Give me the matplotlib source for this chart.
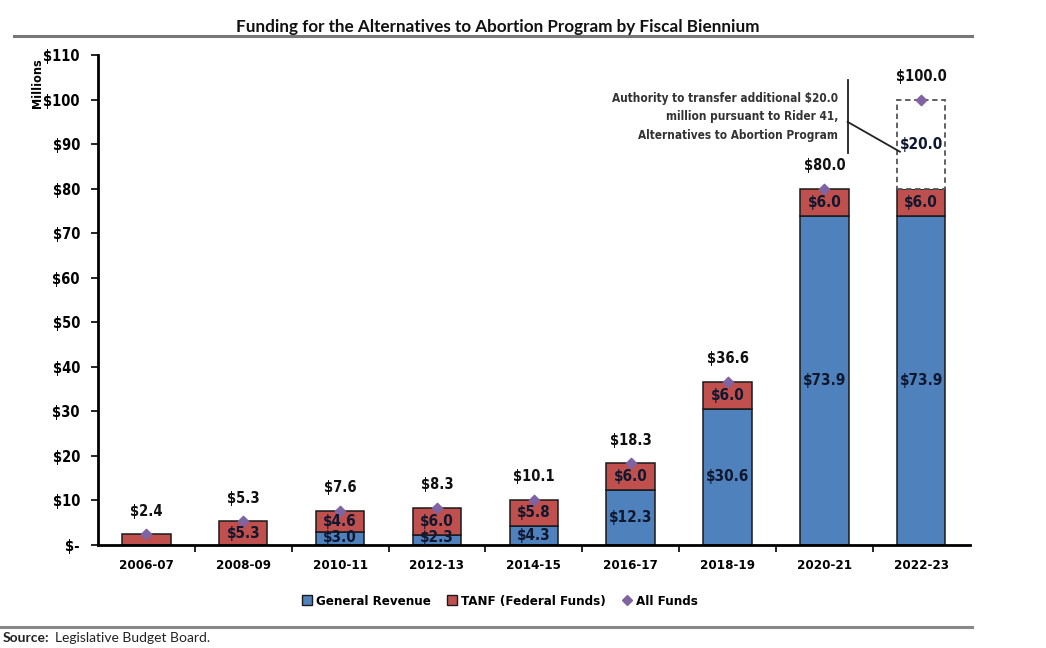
import numpy as np
import matplotlib
matplotlib.use("Agg")
import matplotlib.pyplot as plt
from matplotlib import font_manager
from matplotlib.lines import Line2D
from matplotlib.patches import Patch

# pick a narrow font if one is installed
narrow = [f.name for f in font_manager.fontManager.ttflist
          if 'condensed' in str(f.stretch).lower() or 'narrow' in f.name.lower()
          or 'condensed' in f.name.lower()]
if narrow:
    plt.rcParams['font.family'] = [narrow[0], 'DejaVu Sans']
    plt.rcParams['font.stretch'] = 'condensed'
    cond = True
else:
    plt.rcParams['font.family'] = ['DejaVu Sans']
    cond = False

bienniums = ['2006-07', '2008-09', '2010-11', '2012-13', '2014-15',
             '2016-17', '2018-19', '2020-21', '2022-23']
general_revenue = [0.0, 0.0, 3.0, 2.3, 4.3, 12.3, 30.6, 73.9, 73.9]
tanf = [2.4, 5.3, 4.6, 6.0, 5.8, 6.0, 6.0, 6.0, 6.0]
all_funds = [2.4, 5.3, 7.6, 8.3, 10.1, 18.3, 36.6, 80.0, 100.0]
rider_extra = 20.0  # 2022-23 only
yticks = [0, 10, 20, 30, 40, 50, 60, 70, 80, 90, 100, 110]
ytick_labels = ['$-', '$10', '$20', '$30', '$40', '$50', '$60', '$70',
                '$80', '$90', '$100', '$110']

blue = '#4F81BD'
red = '#C0504D'
purple = '#8064A2'
k = 1.0 if cond else 0.85

fig = plt.figure(figsize=(10.46, 6.48), dpi=100)
ax = fig.add_axes([0.0937, 0.159, 0.8333, 0.756])

x = np.arange(len(bienniums))
w = 0.5
gr = np.array(general_revenue)
tf = np.array(tanf)

ax.bar(x, gr, w, color=blue, edgecolor='#1a1a1a', linewidth=1.1, zorder=2)
ax.bar(x, tf, w, bottom=gr, color=red, edgecolor='#1a1a1a', linewidth=1.1, zorder=2)

# dashed box for rider transfer authority
last = len(bienniums) - 1
base = gr[last] + tf[last]
ax.bar(x[last], rider_extra, w, bottom=base, facecolor='white',
       edgecolor='#555555', linewidth=1.3, linestyle=(0, (3, 2)), zorder=2)

ax.scatter(x, all_funds, marker='D', s=28, color=purple, zorder=4)

lab = dict(ha='center', va='center', fontsize=11 * k, fontweight='bold',
           color='#101830', zorder=5)
for i in range(len(bienniums)):
    if gr[i] > 0:
        ax.text(x[i], max(gr[i] / 2, 1.6), '$%.1f' % gr[i], **lab)
    if i > 0:
        ax.text(x[i], gr[i] + tf[i] / 2, '$%.1f' % tf[i], **lab)
ax.text(x[last], base + rider_extra / 2, '$%.1f' % rider_extra, **lab)

for i in range(len(bienniums)):
    ax.text(x[i], all_funds[i] + 5.2, '$%.1f' % all_funds[i], ha='center',
            va='center', fontsize=10.5 * k, fontweight='bold', color='#101010', zorder=5)

ax.set_xlim(-0.5, len(bienniums) - 0.5)
ax.set_ylim(0, 110)
ax.set_yticks(yticks)
ax.set_yticklabels(ytick_labels, fontsize=10.5 * k, fontweight='bold')
ax.set_xticks(x)
ax.set_xticklabels(bienniums, fontsize=9.5 * k, fontweight='bold')
ax.set_xticks(x[:-1] + 0.5, minor=True)
ax.tick_params(axis='x', which='major', length=0, pad=10)
ax.tick_params(axis='x', which='minor', length=5, width=1.2, direction='out')
ax.tick_params(axis='y', length=5, width=1.2, direction='out', pad=8)
for s in ['top', 'right']:
    ax.spines[s].set_visible(False)
ax.spines['left'].set_linewidth(2)
ax.spines['bottom'].set_linewidth(2)

# annotation
ax.plot([7.24, 7.24], [88.0, 104.4], color='#222222', lw=1.3)
ax.plot([7.24, 7.78], [95.0, 88.3], color='#222222', lw=1.3)
ax.text(7.14, 96.1, 'Authority to transfer additional $20.0\nmillion pursuant to Rider 41,\nAlternatives to Abortion Program',
        ha='right', va='center', fontsize=8.5 * k, fontweight='bold', color='#333333',
        linespacing=1.55)

fig.text(0.476, 0.959, 'Funding for the Alternatives to Abortion Program by Fiscal Biennium',
         ha='center', va='center', fontsize=12.3, fontweight='bold',
         family=['Lato', 'DejaVu Sans'], stretch='normal', color='#111111')
fig.text(0.036, 0.872, 'Millions', rotation=90, ha='center', va='center',
         fontsize=9 * k, fontweight='bold')

fig.add_artist(Line2D([0.013, 0.929], [0.944, 0.944], color='#777777', lw=2.2))
fig.add_artist(Line2D([0.0, 0.929], [0.032, 0.032], color='#888888', lw=2.2))
fig.text(0.003, 0.016, 'Source:', ha='left', va='center', fontsize=10,
         fontweight='bold', family=['Lato', 'DejaVu Sans'], stretch='normal',
         color='#222222')
fig.text(0.053, 0.016, 'Legislative Budget Board.', ha='left', va='center',
         fontsize=10, family=['Lato', 'DejaVu Sans'], stretch='normal', color='#222222')

handles = [Patch(facecolor=blue, edgecolor='#1a1a1a', label='General Revenue'),
           Patch(facecolor=red, edgecolor='#1a1a1a', label='TANF (Federal Funds)'),
           Line2D([], [], marker='D', color=purple, linestyle='none',
                  markersize=5, label='All Funds')]
fig.legend(handles=handles, loc='center', bbox_to_anchor=(0.478, 0.072), ncol=3,
           frameon=False, prop={'weight': 'bold', 'size': 9.5 * k},
           handlelength=0.8, handleheight=0.8, handletextpad=0.3, columnspacing=1.2)

fig.savefig('out.png', dpi=100)
